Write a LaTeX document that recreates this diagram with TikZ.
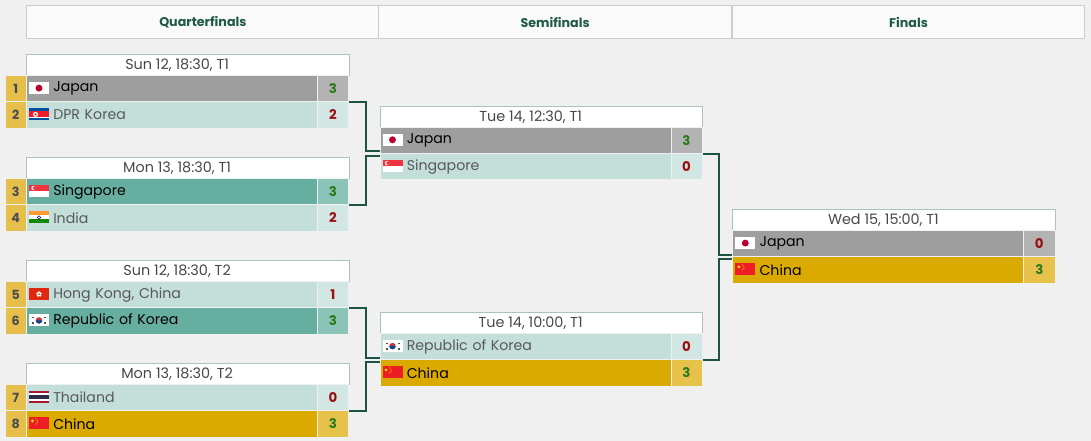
\documentclass[tikz,border=0pt]{standalone}
\usepackage{fontspec}
\setmainfont{Poppins}
\usepackage{xcolor}
\usetikzlibrary{positioning,calc}

\definecolor{pagebg}{HTML}{F0F0F0}
\definecolor{headfill}{HTML}{FAFAFA}
\definecolor{headline}{HTML}{CCCCCC}
\definecolor{headtext}{HTML}{1D5A47}
\definecolor{dateline}{HTML}{A9C4BD}
\definecolor{datetext}{HTML}{484848}
\definecolor{losefill}{HTML}{C4DEDA}
\definecolor{losescore}{HTML}{D2E6E3}
\definecolor{grayfill}{HTML}{9E9E9E}
\definecolor{grayscore}{HTML}{B3B3B3}
\definecolor{tealfill}{HTML}{66AE9F}
\definecolor{tealscore}{HTML}{8CC3B8}
\definecolor{goldfill}{HTML}{DBAA00}
\definecolor{goldscore}{HTML}{E6C24A}
\definecolor{seedfill}{HTML}{E6BE4C}
\definecolor{wintext}{HTML}{2C7A1C}
\definecolor{losetext}{HTML}{9B0E0E}
\definecolor{bracketline}{HTML}{1E5246}
% flag colours
\definecolor{jpred}{HTML}{BC002D}
\definecolor{kpblue}{HTML}{024FA2}
\definecolor{kpred}{HTML}{ED1C27}
\definecolor{sgred}{HTML}{EF3340}
\definecolor{inorange}{HTML}{FF9933}
\definecolor{ingreen}{HTML}{138808}
\definecolor{innavy}{HTML}{000080}
\definecolor{hkred}{HTML}{DE2910}
\definecolor{krred}{HTML}{CD2E3A}
\definecolor{krblue}{HTML}{0047A0}
\definecolor{thred}{HTML}{A51931}
\definecolor{thblue}{HTML}{2D2A4A}
\definecolor{cnred}{HTML}{EE1C25}
\definecolor{cnyellow}{HTML}{FFDE00}

% flags, 20 x 12 px, origin top left
\newcommand{\flagjp}{\fill[white] (0,0) rectangle (20,12); \fill[jpred] (10,6) circle (2.6pt);}
\newcommand{\flagkp}{\fill[kpblue] (0,0) rectangle (20,12); \fill[white] (0,2.2) rectangle (20,9.8);
  \fill[kpred] (0,2.9) rectangle (20,9.1); \fill[white] (6.5,6) circle (1.9pt); \fill[kpred] (6.5,6) circle (1pt);}
\newcommand{\flagsg}{\fill[sgred] (0,0) rectangle (20,6); \fill[white] (0,6) rectangle (20,12);
  \fill[white] (4.5,3) circle (1.6pt); \fill[sgred] (5.4,3) circle (1.4pt);}
\newcommand{\flagin}{\fill[inorange] (0,0) rectangle (20,4); \fill[white] (0,4) rectangle (20,8);
  \fill[ingreen] (0,8) rectangle (20,12); \draw[innavy, line width=0.4pt] (10,6) circle (1.3pt);}
\newcommand{\flaghk}{\fill[hkred] (0,0) rectangle (20,12);
  \foreach \a in {90,162,234,306,378} \fill[white] ($(10,6)+(\a:1.3pt)$) circle (0.95pt);}
\newcommand{\flagkr}{\fill[white] (0,0) rectangle (20,12); \fill[krred] (10,6) circle (2.4pt);
  \fill[krblue] ([xshift=-2.4pt]10,6) arc (180:360:2.4pt) -- cycle;
  \foreach \p/\q in {3/2.5, 15/2.5, 3/8, 15/8} \fill[black!70] (\p,\q) rectangle (\p+2,\q+1.5);}
\newcommand{\flagth}{\fill[thred] (0,0) rectangle (20,12); \fill[white] (0,2) rectangle (20,10);
  \fill[thblue] (0,4) rectangle (20,8);}
\newcommand{\flagcn}{\fill[cnred] (0,0) rectangle (20,12); \fill[cnyellow] (3.5,3.5) circle (1.2pt);
  \foreach \p in {(7,1.5),(8.5,3),(8.5,5),(7,6.5)} \fill[cnyellow] \p circle (0.45pt);}

\begin{document}
\begin{tikzpicture}[x=0.75pt, y=-0.75pt,
    headcell/.style={rectangle, anchor=north west, inner sep=0pt, minimum width=264.5pt,
      minimum height=24.75pt, fill=headfill, draw=headline, line width=0.75pt,
      text=headtext, font=\fontsize{9.5}{11}\selectfont\bfseries},
    datebox/.style={rectangle, anchor=north west, inner sep=0pt, minimum width=241.9pt,
      minimum height=15.6pt, fill=white, draw=dateline, line width=0.75pt,
      text=datetext, font=\fontsize{10.8}{12}\selectfont, execute at end node={\hspace*{16pt}}},
    team/.style={rectangle, anchor=north west, inner sep=0pt, minimum width=218.25pt,
      minimum height=19.75pt, text width=177.75pt, align=left, draw=pagebg, line width=0.4pt,
      font=\fontsize{10.6}{12}\selectfont},
    teamlose/.style={fill=losefill, text=black!65},
    teamgray/.style={fill=grayfill, text=black},
    teamteal/.style={fill=tealfill, text=black},
    teamgold/.style={fill=goldfill, text=black},
    score/.style={rectangle, anchor=north west, inner sep=0pt, minimum width=23.6pt,
      minimum height=19.75pt, draw=pagebg, line width=0.4pt, font=\fontsize{10}{12}\selectfont\bfseries},
    scorelose/.style={fill=losescore},
    scoregray/.style={fill=grayscore},
    scoreteal/.style={fill=tealscore},
    scoregold/.style={fill=goldscore},
    ptsw/.style={text=wintext},
    ptsl/.style={text=losetext},
    seed/.style={rectangle, anchor=north west, inner sep=0pt, minimum width=15.75pt,
      minimum height=19.75pt, fill=seedfill, draw=pagebg, line width=0.4pt,
      text=black!70, font=\fontsize{9.5}{11}\selectfont\bfseries},
    bracket/.style={draw=bracketline, line width=1.5pt}]

    \fill[pagebg] (0,0) rectangle (1091,441);
    \useasboundingbox (0,0) rectangle (1091,441);

    % Round headers
    \node[headcell] (hq) at (26,5.3) {Quarterfinals};
    \node[headcell] (hs) at (378.3,5.3) {Semifinals};
    \node[headcell] (hf) at (731.7,5.3) {Finals};

    % Match dates
    \node[datebox] (qf1) at (26,54.3) {Sun 12, 18:30, T1};
    \node[datebox] (qf2) at (26,157.3) {Mon 13, 18:30, T1};
    \node[datebox] (qf3) at (26,260.3) {Sun 12, 18:30, T2};
    \node[datebox] (qf4) at (26,363.3) {Mon 13, 18:30, T2};
    \node[datebox] (sf1) at (379.5,106) {Tue 14, 12:30, T1};
    \node[datebox] (sf2) at (379.5,312.3) {Tue 14, 10:00, T1};
    \node[datebox] (fin) at (732.3,209.3) {Wed 15, 15:00, T1};

    % Team rows
    \foreach \id/\x/\y/\fl/\team/\sc/\kind/\res in {
        qf1a/26/75.1/jp/Japan/3/gray/w, qf1b/26/101.4/kp/DPR Korea/2/lose/l,
        qf2a/26/178.1/sg/Singapore/3/teal/w, qf2b/26/204.4/in/India/2/lose/l,
        qf3a/26/281.1/hk/{Hong Kong, China}/1/lose/l, qf3b/26/307.4/kr/Republic of Korea/3/teal/w,
        qf4a/26/384.1/th/Thailand/0/lose/l, qf4b/26/410.4/cn/China/3/gold/w,
        sf1a/379.5/126.8/jp/Japan/3/gray/w, sf1b/379.5/153.1/sg/Singapore/0/lose/l,
        sf2a/379.5/333.1/kr/Republic of Korea/0/lose/l, sf2b/379.5/359.4/cn/China/3/gold/w,
        fa/732.3/230.1/jp/Japan/0/gray/l, fb/732.3/256.4/cn/China/3/gold/w} {
        \node[team, team\kind] (\id-t) at (\x,\y) {\team};
        \node[score, score\kind, pts\res] (\id-s) at (\x+291,\y) {\sc};
        \begin{scope}[shift={(\x+3,\y+7)}]
            \csname flag\fl\endcsname
        \end{scope}
    }

    % Seeds
    \foreach \n/\y in {1/75.1, 2/101.4, 3/178.1, 4/204.4, 5/281.1, 6/307.4, 7/384.1, 8/410.4}
        \node[seed] (seed\n) at (5,\y) {\n};

    % Brackets
    \draw[bracket] (qf1a-s.south east) -- ++(16.5,0) |- ([yshift=1.7pt]sf1a-t.south west);
    \draw[bracket] (qf2a-s.south east) -- ++(16.5,0) |- ([yshift=-1.7pt]sf1a-t.south west);
    \draw[bracket] (qf3a-s.south east) -- ++(16.5,0) |- ([yshift=1.7pt]sf2a-t.south west);
    \draw[bracket] (qf4a-s.south east) -- ++(16.5,0) |- ([yshift=-1.7pt]sf2a-t.south west);
    \draw[bracket] (sf1a-s.south east) -- ++(16.3,0) |- ([yshift=1.7pt]fa-t.south west);
    \draw[bracket] (sf2a-s.south east) -- ++(16.3,0) |- ([yshift=-1.7pt]fa-t.south west);
\end{tikzpicture}
\end{document}
